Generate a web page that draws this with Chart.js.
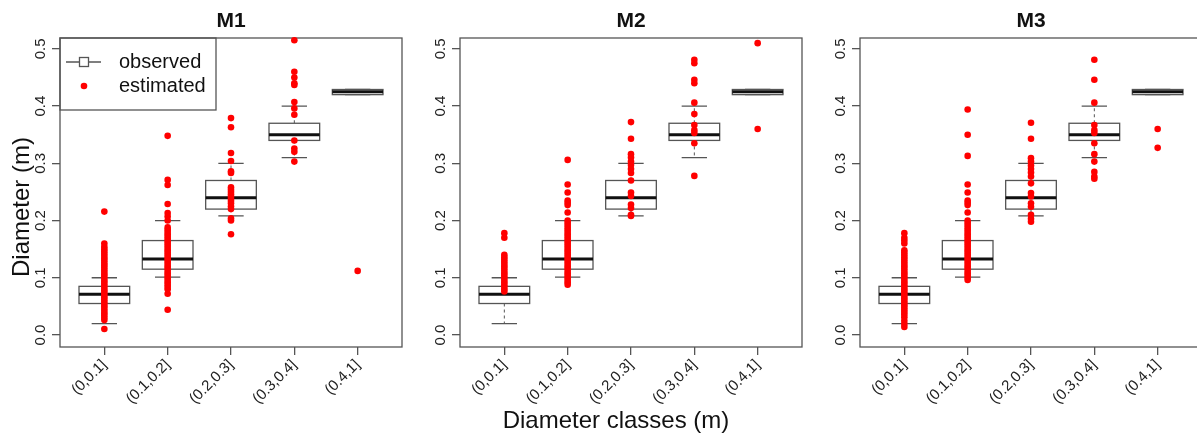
<!DOCTYPE html>
<html>
<head>
<meta charset="utf-8">
<script src="https://cdn.jsdelivr.net/npm/chart.js@4.4.0/dist/chart.umd.min.js"></script>
<style>
  html, body { margin: 0; padding: 0; background: #fff; overflow: hidden; }
  #wrap { position: relative; width: 1197px; height: 434px; overflow: hidden; }
  canvas { position: absolute; top: 0; }
</style>
</head>
<body>
<div id="wrap">
  <canvas id="m1" width="410" height="434" style="left:0px"></canvas>
  <canvas id="m2" width="410" height="434" style="left:400px"></canvas>
  <canvas id="m3" width="410" height="434" style="left:800px"></canvas>
</div>
<script>
const FONT = "'Liberation Sans', Arial, sans-serif";

const classes = ['(0,0.1]', '(0.1,0.2]', '(0.2,0.3]', '(0.3,0.4]', '(0.4,1]'];
const yTicks = [0, 0.1, 0.2, 0.3, 0.4, 0.5];

// observed diameters, one boxplot per class
const obsLow  = [0.020, 0.101, 0.208, 0.310, 0.420];
const obsQ1   = [0.055, 0.115, 0.220, 0.340, 0.420];
const obsMed  = [0.071, 0.133, 0.240, 0.350, 0.425];
const obsQ3   = [0.085, 0.165, 0.270, 0.370, 0.429];
const obsHigh = [0.100, 0.200, 0.300, 0.400, 0.429];

// estimated diameters per class for each model
const estM1 = [
  [0.0105, 0.026, 0.030, 0.034, 0.038, 0.042, 0.046, 0.050, 0.054, 0.058, 0.062, 0.066, 0.070, 0.074, 0.078,
   0.082, 0.086, 0.090, 0.094, 0.098, 0.102, 0.106, 0.110, 0.114, 0.118, 0.122, 0.126, 0.130, 0.134, 0.138,
   0.142, 0.146, 0.150, 0.154, 0.160, 0.2156],
  [0.044, 0.072, 0.080, 0.084, 0.088, 0.092, 0.096, 0.100, 0.104, 0.108, 0.112, 0.116, 0.120, 0.124, 0.128,
   0.132, 0.136, 0.140, 0.144, 0.148, 0.152, 0.156, 0.160, 0.164, 0.168, 0.172, 0.176, 0.180, 0.184, 0.188,
   0.200, 0.207, 0.213, 0.229, 0.262, 0.271, 0.348],
  [0.176, 0.200, 0.204, 0.220, 0.225, 0.230, 0.234, 0.238, 0.242, 0.246, 0.250, 0.254, 0.258, 0.283, 0.286,
   0.304, 0.318, 0.363, 0.379],
  [0.303, 0.320, 0.326, 0.340, 0.385, 0.396, 0.407, 0.437, 0.440, 0.450, 0.460, 0.515],
  [0.112]
];
const estM2 = [
  [0.076, 0.080, 0.084, 0.088, 0.092, 0.096, 0.100, 0.104, 0.108, 0.112, 0.116, 0.120, 0.124, 0.128, 0.132,
   0.136, 0.140, 0.170, 0.178],
  [0.088, 0.092, 0.096, 0.100, 0.104, 0.108, 0.112, 0.116, 0.120, 0.124, 0.128, 0.132, 0.136, 0.140, 0.144,
   0.148, 0.152, 0.156, 0.160, 0.164, 0.168, 0.172, 0.176, 0.180, 0.184, 0.188, 0.192, 0.196, 0.200, 0.214,
   0.227, 0.231, 0.235, 0.249, 0.263, 0.306],
  [0.208, 0.210, 0.222, 0.228, 0.243, 0.249, 0.270, 0.283, 0.290, 0.297, 0.303, 0.310, 0.316, 0.343, 0.372],
  [0.278, 0.335, 0.353, 0.358, 0.367, 0.386, 0.406, 0.440, 0.446, 0.475, 0.481],
  [0.360, 0.510]
];
const estM3 = [
  [0.014, 0.019, 0.025, 0.031, 0.036, 0.040, 0.044, 0.048, 0.052, 0.056, 0.060, 0.064, 0.068, 0.072, 0.076,
   0.080, 0.084, 0.088, 0.092, 0.096, 0.100, 0.104, 0.108, 0.112, 0.116, 0.120, 0.124, 0.128, 0.132, 0.136,
   0.140, 0.144, 0.148, 0.160, 0.165, 0.170, 0.178],
  [0.096, 0.100, 0.104, 0.108, 0.112, 0.116, 0.120, 0.124, 0.128, 0.132, 0.136, 0.140, 0.144, 0.148, 0.152,
   0.156, 0.160, 0.164, 0.168, 0.172, 0.176, 0.180, 0.184, 0.188, 0.192, 0.196, 0.200, 0.214, 0.227, 0.231,
   0.235, 0.249, 0.263, 0.313, 0.350, 0.394],
  [0.198, 0.203, 0.210, 0.224, 0.230, 0.242, 0.248, 0.265, 0.277, 0.284, 0.290, 0.296, 0.303, 0.309, 0.343, 0.371],
  [0.273, 0.277, 0.285, 0.303, 0.316, 0.335, 0.353, 0.358, 0.367, 0.406, 0.446, 0.481],
  [0.327, 0.360]
];

const GREY = '#555';

// R-style boxplots under the points, plus frame, titles and legend
const rBox = {
  id: 'rbox',
  beforeDatasetsDraw(chart) {
    const { ctx, chartArea: a, scales: { x, y } } = chart;
    ctx.save();
    ctx.strokeStyle = GREY;
    ctx.lineWidth = 1.3;
    ctx.strokeRect(a.left, a.top, a.right - a.left, a.bottom - a.top);

    classes.forEach((c, i) => {
      const cx = x.getPixelForValue(i + 1);
      const hw = x.getPixelForValue(i + 1.4) - cx;
      const cw = x.getPixelForValue(i + 1.2) - cx;
      const yLo = y.getPixelForValue(obsLow[i]);
      const yQ1 = y.getPixelForValue(obsQ1[i]);
      const yMd = y.getPixelForValue(obsMed[i]);
      const yQ3 = y.getPixelForValue(obsQ3[i]);
      const yHi = y.getPixelForValue(obsHigh[i]);

      // whiskers
      ctx.lineWidth = 1;
      ctx.setLineDash([3, 3]);
      ctx.beginPath();
      ctx.moveTo(cx, yQ1); ctx.lineTo(cx, yLo);
      ctx.moveTo(cx, yQ3); ctx.lineTo(cx, yHi);
      ctx.stroke();
      ctx.setLineDash([]);
      ctx.lineWidth = 1.3;
      ctx.beginPath();
      ctx.moveTo(cx - cw, yLo); ctx.lineTo(cx + cw, yLo);
      ctx.moveTo(cx - cw, yHi); ctx.lineTo(cx + cw, yHi);
      ctx.stroke();

      // box
      ctx.fillStyle = '#fff';
      ctx.fillRect(cx - hw, yQ3, 2 * hw, yQ1 - yQ3);
      ctx.strokeRect(cx - hw, yQ3, 2 * hw, yQ1 - yQ3);

      // median
      ctx.strokeStyle = '#111';
      ctx.lineWidth = 3;
      ctx.beginPath();
      ctx.moveTo(cx - hw, yMd); ctx.lineTo(cx + hw, yMd);
      ctx.stroke();
      ctx.strokeStyle = GREY;
      ctx.lineWidth = 1.3;
    });
    ctx.restore();
  },
  afterDraw(chart, args, opts) {
    const { ctx, chartArea: a } = chart;
    ctx.save();
    ctx.fillStyle = '#111';
    ctx.textAlign = 'center';
    ctx.textBaseline = 'alphabetic';
    ctx.font = 'bold 21px ' + FONT;
    ctx.fillText(opts.title, (a.left + a.right) / 2, 27);

    if (opts.yTitle) {
      ctx.save();
      ctx.translate(22, 207);
      ctx.rotate(-Math.PI / 2);
      ctx.font = '24px ' + FONT;
      ctx.textBaseline = 'middle';
      ctx.fillText(opts.yTitle, 0, 0);
      ctx.restore();
    }
    if (opts.xTitle) {
      ctx.font = '24px ' + FONT;
      ctx.fillText(opts.xTitle, 216, 428);
    }

    if (opts.legend) {
      ctx.strokeStyle = GREY;
      ctx.lineWidth = 1.3;
      ctx.strokeRect(a.left, a.top, 156, 72);
      // observed: line with open square
      ctx.beginPath();
      ctx.moveTo(66, 62); ctx.lineTo(101, 62);
      ctx.stroke();
      ctx.fillStyle = '#fff';
      ctx.fillRect(79.5, 57.5, 9, 9);
      ctx.strokeRect(79.5, 57.5, 9, 9);
      // estimated: red dot
      ctx.fillStyle = '#ff0000';
      ctx.beginPath();
      ctx.arc(84, 86, 3.3, 0, Math.PI * 2);
      ctx.fill();
      ctx.fillStyle = '#111';
      ctx.font = '20px ' + FONT;
      ctx.textAlign = 'left';
      ctx.textBaseline = 'middle';
      ctx.fillText('observed', 119, 62);
      ctx.fillText('estimated', 119, 86);
    }
    ctx.restore();
  }
};

function makePanel(id, est, extra) {
  const points = est.flatMap((vals, i) => vals.map(v => ({ x: i + 1, y: v })));
  return new Chart(document.getElementById(id), {
    type: 'scatter',
    data: {
      datasets: [{
        label: 'estimated',
        data: points,
        pointRadius: 3.3,
        pointBackgroundColor: '#ff0000',
        pointBorderWidth: 0,
        clip: false
      }]
    },
    options: {
      responsive: false,
      animation: false,
      events: [],
      layout: { padding: { top: 38, right: 8, left: 0, bottom: 0 } },
      plugins: {
        legend: { display: false },
        tooltip: { enabled: false },
        rbox: extra
      },
      scales: {
        x: {
          type: 'linear',
          min: 0.3,
          max: 5.7,
          afterBuildTicks: s => { s.ticks = classes.map((c, i) => ({ value: i + 1 })); },
          afterFit: s => { s.height = 87; },
          ticks: {
            callback: (v, i) => classes[i],
            autoSkip: false,
            minRotation: 45,
            maxRotation: 45,
            padding: 1,
            color: '#222',
            font: { family: FONT, size: 15 }
          },
          grid: { drawOnChartArea: false, drawTicks: true, tickLength: 8, color: GREY, lineWidth: 1.3 },
          border: { display: false }
        },
        y: {
          min: -0.021,
          max: 0.519,
          afterBuildTicks: s => { s.ticks = yTicks.map(v => ({ value: v })); },
          afterFit: s => { s.width = 60; },
          ticks: {
            callback: v => v.toFixed(1),
            minRotation: 90,
            maxRotation: 90,
            crossAlign: 'center',
            padding: 1,
            color: '#222',
            font: { family: FONT, size: 15 }
          },
          grid: { drawOnChartArea: false, drawTicks: true, tickLength: 8, color: GREY, lineWidth: 1.3 },
          border: { display: false }
        }
      }
    },
    plugins: [rBox]
  });
}

makePanel('m1', estM1, { title: 'M1', legend: true, yTitle: 'Diameter (m)' });
makePanel('m2', estM2, { title: 'M2', xTitle: 'Diameter classes (m)' });
makePanel('m3', estM3, { title: 'M3' });
</script>
</body>
</html>
